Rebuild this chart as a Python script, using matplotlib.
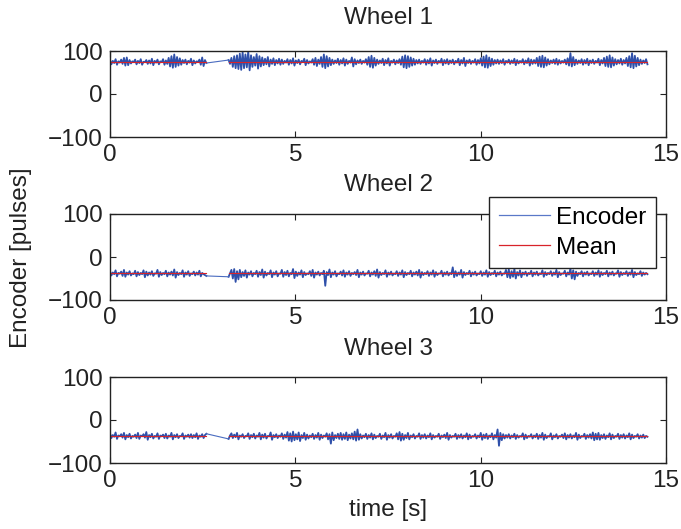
import numpy as np
import matplotlib
matplotlib.use("Agg")
import matplotlib.pyplot as plt

plt.rcParams['font.family'] = ['Liberation Sans', 'DejaVu Sans']

# time spans of the two recorded pieces (s)
t_a = (0.0, 2.6)
t_b = (3.2, 14.5)

# wheel 1 encoder [pulses]
w1_a = [79, 69, 77, 72, 81, 68, 76, 73, 80, 70, 84, 66, 85, 67, 79, 71, 76, 74, 80, 69,
        77, 72, 81, 68, 75, 74, 79, 70, 78, 71, 82, 67, 77, 73, 80, 69, 76, 74, 81, 68,
        78, 70, 84, 64, 88, 61, 92, 63, 86, 66, 83, 68, 79, 72, 80, 69, 77, 73, 82, 67,
        78, 71, 76, 74, 80, 68, 85, 65, 79, 72]
w1_b = [79, 70, 84, 63, 88, 60, 90, 58, 94, 56, 97, 60, 92, 62, 99, 55, 90, 63, 86, 66,
        93, 59, 88, 64, 85, 67, 82, 69, 86, 64, 80, 70, 83, 67, 79, 71, 82, 68, 80, 70,
        77, 73, 81, 68, 79, 71, 83, 66, 78, 72, 80, 69, 77, 74, 82, 67, 79, 71, 76, 73,
        81, 68, 84, 65, 80, 70, 86, 63, 92, 60, 88, 64, 84, 67, 80, 70, 78, 72, 82, 68,
        79, 71, 83, 66, 80, 70, 77, 73, 85, 64, 81, 69, 78, 72, 80, 70, 77, 73, 81, 68,
        86, 63, 89, 61, 84, 66, 80, 70, 78, 72, 82, 67, 79, 71, 83, 66, 77, 73, 80, 69,
        78, 72, 81, 68, 87, 62, 90, 60, 88, 63, 85, 66, 82, 68, 79, 71, 80, 70, 77, 73,
        81, 68, 79, 71, 83, 66, 78, 72, 80, 70, 77, 73, 82, 67, 79, 71, 81, 69, 78, 72,
        80, 69, 77, 73, 82, 67, 79, 71, 84, 65, 78, 72, 80, 70, 77, 73, 81, 68, 79, 71,
        83, 66, 87, 62, 90, 61, 85, 65, 82, 68, 79, 71, 80, 70, 78, 72, 81, 68, 77, 73,
        80, 70, 78, 72, 82, 67, 79, 71, 77, 73, 81, 69, 78, 72, 83, 66, 80, 70, 79, 71,
        84, 65, 87, 63, 89, 62, 85, 66, 81, 69, 78, 72, 80, 70, 82, 68, 79, 71, 77, 73,
        80, 69, 83, 66, 95, 64, 86, 67, 80, 70, 78, 72, 81, 68, 79, 71, 82, 67, 78, 72,
        80, 70, 77, 73, 82, 67, 79, 71, 84, 65, 87, 63, 90, 62, 85, 66, 81, 69, 79, 71,
        82, 68, 79, 71, 84, 65, 88, 62, 95, 60, 89, 64, 84, 67, 80, 70, 78, 72, 81, 69]

# wheel 2
w2_a = [-33, -43, -36, -40, -31, -45, -37, -39, -34, -44, -30, -46, -36, -41, -33, -43, -38, -40, -32, -45,
        -35, -42, -37, -40, -31, -47, -34, -43, -36, -41, -33, -44, -38, -39, -30, -46, -35, -42, -37, -40,
        -32, -45, -36, -41, -34, -43, -29, -48, -35, -42, -37, -40, -31, -46, -36, -41, -33, -44, -38, -40,
        -34, -43, -36, -41, -32, -45, -37, -40, -42, -44]
w2_b = [-46, -38, -30, -50, -28, -58, -33, -52, -30, -47, -35, -44, -31, -48, -36, -41, -33, -45, -37, -40,
        -32, -46, -35, -42, -29, -48, -34, -43, -37, -40, -31, -47, -36, -41, -33, -45, -38, -39, -30, -46,
        -35, -42, -32, -45, -37, -40, -28, -49, -34, -44, -36, -41, -31, -47, -35, -42, -38, -40, -33, -44,
        -30, -48, -36, -41, -34, -43, -37, -40, -32, -67, -35, -42, -29, -47, -36, -41, -33, -45, -38, -40,
        -34, -43, -31, -46, -36, -41, -33, -44, -37, -40, -35, -42, -30, -47, -36, -41, -34, -43, -38, -39,
        -32, -45, -36, -41, -33, -44, -29, -48, -35, -42, -37, -40, -31, -46, -36, -41, -34, -43, -38, -40,
        -33, -44, -36, -41, -31, -47, -35, -42, -37, -40, -32, -45, -36, -41, -34, -43, -30, -48, -35, -42,
        -37, -40, -33, -44, -36, -41, -31, -46, -35, -42, -38, -39, -32, -45, -36, -41, -34, -43, -37, -40,
        -24, -47, -33, -44, -36, -41, -30, -48, -35, -42, -37, -40, -32, -45, -36, -41, -34, -43, -38, -40,
        -33, -44, -36, -41, -31, -46, -35, -42, -37, -40, -32, -45, -36, -41, -34, -43, -38, -39, -30, -47,
        -29, -49, -33, -46, -28, -50, -35, -43, -31, -47, -36, -41, -34, -44, -37, -40, -32, -45, -36, -41,
        -34, -43, -38, -40, -31, -46, -35, -42, -37, -40, -33, -44, -36, -41, -30, -47, -35, -42, -38, -39,
        -32, -45, -36, -41, -27, -50, -31, -52, -34, -44, -37, -40, -33, -45, -36, -41, -34, -43, -38, -40,
        -33, -44, -36, -41, -31, -46, -35, -42, -37, -40, -32, -45, -36, -41, -34, -43, -38, -39, -31, -46,
        -35, -42, -37, -40, -33, -44, -36, -41, -30, -47, -35, -42, -38, -40, -33, -44, -36, -41, -37, -40]

# wheel 3
w3_a = [-31, -42, -35, -39, -29, -44, -36, -38, -33, -41, -30, -45, -35, -40, -32, -43, -37, -39, -34, -42,
        -30, -44, -36, -38, -33, -41, -28, -46, -35, -40, -32, -43, -37, -39, -31, -44, -36, -38, -34, -42,
        -32, -43, -36, -39, -30, -45, -35, -40, -33, -42, -37, -38, -31, -44, -36, -39, -34, -41, -33, -42,
        -35, -40, -31, -44, -36, -39, -33, -42, -35, -32]
w3_b = [-44, -36, -31, -42, -34, -40, -30, -45, -36, -39, -33, -42, -37, -38, -31, -44, -35, -40, -32, -43,
        -36, -39, -30, -45, -34, -41, -32, -43, -37, -38, -29, -46, -35, -40, -33, -42, -36, -39, -31, -44,
        -34, -41, -28, -48, -31, -50, -27, -47, -33, -45, -29, -49, -35, -42, -30, -46, -34, -43, -36, -40,
        -32, -44, -35, -41, -30, -46, -34, -42, -36, -39, -31, -45, -33, -55, -29, -47, -35, -42, -32, -44,
        -30, -46, -33, -44, -29, -47, -34, -43, -31, -45, -27, -48, -22, -46, -33, -43, -36, -40, -32, -44,
        -35, -41, -31, -45, -34, -42, -37, -39, -32, -44, -36, -40, -30, -46, -35, -41, -33, -43, -37, -39,
        -31, -45, -28, -48, -32, -46, -35, -42, -30, -45, -36, -40, -33, -43, -37, -39, -31, -44, -35, -41,
        -33, -43, -36, -40, -31, -45, -35, -41, -37, -39, -32, -44, -36, -40, -34, -42, -30, -46, -35, -41,
        -37, -39, -32, -44, -35, -41, -33, -43, -36, -40, -31, -45, -34, -42, -37, -39, -33, -43, -36, -40,
        -30, -46, -34, -42, -32, -44, -36, -40, -31, -45, -35, -41, -22, -60, -30, -47, -33, -43, -35, -41,
        -33, -43, -36, -40, -32, -44, -35, -41, -37, -39, -31, -45, -34, -42, -37, -39, -33, -43, -36, -40,
        -32, -44, -35, -41, -30, -46, -34, -42, -37, -39, -31, -45, -36, -40, -33, -43, -37, -39, -34, -42,
        -31, -45, -35, -41, -33, -43, -36, -40, -30, -46, -34, -42, -37, -39, -32, -44, -35, -41, -33, -43,
        -29, -47, -32, -45, -30, -46, -35, -42, -33, -44, -36, -40, -31, -45, -34, -42, -37, -39, -32, -44,
        -35, -41, -33, -43, -36, -40, -31, -45, -34, -42, -37, -39, -33, -43, -36, -41, -34, -42, -37, -39]

means = [75, -38, -37]
titles = ['Wheel 1', 'Wheel 2', 'Wheel 3']
wheels = [(w1_a, w1_b), (w2_a, w2_b), (w3_a, w3_b)]

blue = '#2f50aa'
red = '#d8232a'
ink = '#222222'
fs = 17.5

fig = plt.figure(figsize=(6.81, 5.29), dpi=100)
W, H = 681.0, 529.0
# axes boxes in pixels: (top, bottom)
boxes = [(51, 137), (214, 300), (377, 463)]
title_y = [18, 185, 349]

axes = []
for i, (a, b) in enumerate(wheels):
    top, bot = boxes[i]
    ax = fig.add_axes([110 / W, 1 - bot / H, 556 / W, (bot - top) / H])
    ta = np.linspace(t_a[0], t_a[1], len(a))
    tb = np.linspace(t_b[0], t_b[1], len(b))
    # dense pieces drawn a bit heavier, the jump across the gap thin
    l1, = ax.plot(ta, a, color=blue, lw=1.3, label='Encoder')
    ax.plot(tb, b, color=blue, lw=1.3)
    ax.plot([ta[-1], tb[0]], [a[-1], b[0]], color='#4a6cc0', lw=0.8)
    tm = np.concatenate([ta, [np.nan], tb])
    mv = np.full(len(tm), float(means[i]))
    l2, = ax.plot(tm, mv, color=red, lw=0.8, label='Mean')
    ax.set_xlim(0, 15)
    ax.set_ylim(-100, 100)
    ax.set_xticks([0, 5, 10, 15])
    ax.set_yticks([-100, 0, 100])
    ax.tick_params(direction='in', top=True, right=True, length=4, width=0.8,
                   labelsize=fs, pad=5, colors=ink)
    for s in ax.spines.values():
        s.set_linewidth(1.0)
        s.set_color(ink)
    fig.text(388 / W, 1 - title_y[i] / H, titles[i], ha='center', va='center',
             fontsize=fs, color=ink)
    axes.append(ax)

leg = axes[1].legend([l1, l2], ['Encoder', 'Mean'], loc='upper left',
                     bbox_to_anchor=(489 / W, 1 - 197 / H), bbox_transform=fig.transFigure,
                     fancybox=False, framealpha=1, edgecolor=ink, fontsize=fs,
                     handlelength=2.1, borderpad=0.4, labelspacing=0.32, handletextpad=0.25,
                     borderaxespad=0)
leg.get_frame().set_linewidth(1.0)
for ln in leg.get_lines():
    ln.set_linewidth(0.9)
leg.get_lines()[0].set_color('#5a78c8')

fig.text(21 / W, 1 - 258 / H, 'Encoder [pulses]', rotation=90, ha='center', va='center',
         fontsize=fs, color=ink)
fig.text(388 / W, 1 - 510 / H, 'time [s]', ha='center', va='center', fontsize=fs,
         color=ink)

fig.savefig('out.png', dpi=100)
